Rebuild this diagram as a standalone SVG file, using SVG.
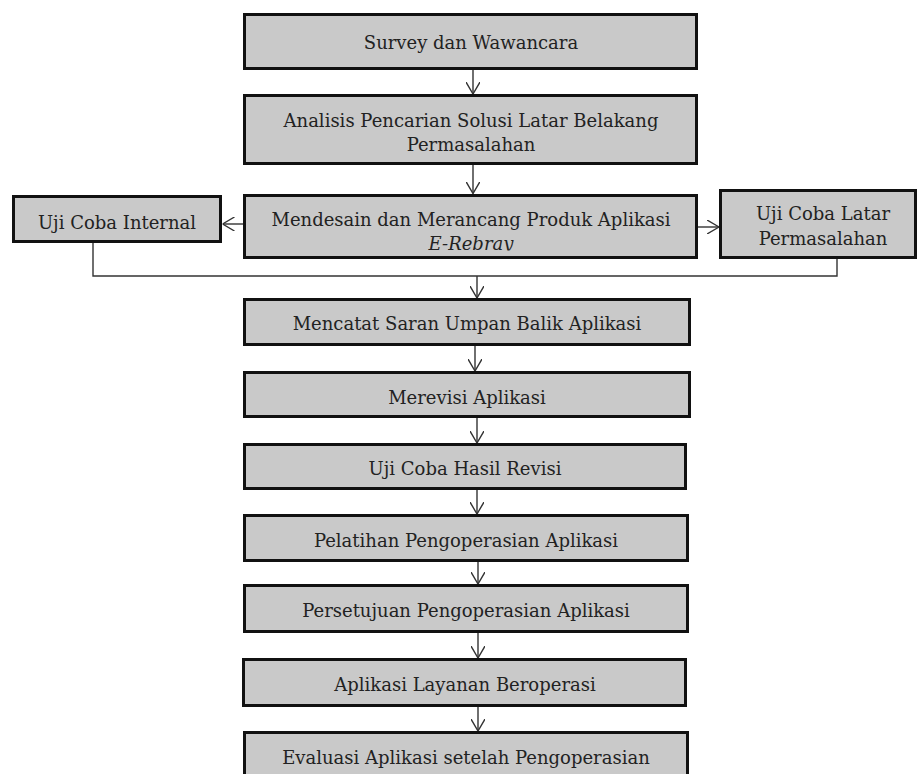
<svg xmlns="http://www.w3.org/2000/svg" width="917" height="774" viewBox="0 0 917 774">
<style>
.box{fill:#c9c9c9;stroke:#111;stroke-width:3}
.t{font-family:"DejaVu Serif","Liberation Serif",serif;font-size:18px;fill:#222;text-anchor:middle}
.c{fill:none;stroke:#333;stroke-width:1.4}
</style>
<defs>
<marker id="ah" viewBox="0 0 12 14" refX="12" refY="7" markerWidth="12" markerHeight="14" markerUnits="userSpaceOnUse" orient="auto">
<path d="M0,0 L12,7 L0,14" fill="none" stroke="#333" stroke-width="1.4"/>
</marker>
<clipPath id="clipM"><rect x="243" y="194" width="455" height="56.5"/></clipPath>
</defs>
<rect width="917" height="774" fill="#fff"/>
<g id="connectors">
<line class="c" x1="473" y1="70" x2="473" y2="94" marker-end="url(#ah)"/>
<line class="c" x1="473" y1="165" x2="473" y2="193.5" marker-end="url(#ah)"/>
<line class="c" x1="243" y1="224" x2="222.5" y2="224" marker-end="url(#ah)"/>
<line class="c" x1="698" y1="227" x2="719" y2="227" marker-end="url(#ah)"/>
<path class="c" d="M93 243 V276 H837 V259"/>
<line class="c" x1="477" y1="276" x2="477" y2="298" marker-end="url(#ah)"/>
<line class="c" x1="475" y1="346" x2="475" y2="371" marker-end="url(#ah)"/>
<line class="c" x1="477" y1="418" x2="477" y2="443" marker-end="url(#ah)"/>
<line class="c" x1="477" y1="490" x2="477" y2="514" marker-end="url(#ah)"/>
<line class="c" x1="478" y1="562" x2="478" y2="584" marker-end="url(#ah)"/>
<line class="c" x1="478" y1="633" x2="478" y2="658" marker-end="url(#ah)"/>
<line class="c" x1="478" y1="707" x2="478" y2="731" marker-end="url(#ah)"/>
</g>
<g id="n1"><rect class="box" x="244.5" y="14.5" width="452" height="54"/><text class="t" x="471" y="49">Survey dan Wawancara</text></g>
<g id="n2"><rect class="box" x="244.5" y="95.5" width="452" height="68"/><text class="t" x="471" y="127">Analisis Pencarian Solusi Latar Belakang</text><text class="t" x="471" y="151">Permasalahan</text></g>
<g id="n3"><rect class="box" x="244.5" y="195.5" width="452" height="62"/><text class="t" x="471" y="226">Mendesain dan Merancang Produk Aplikasi</text><text class="t" x="471" y="250" font-style="italic" clip-path="url(#clipM)">E-Rebray</text></g>
<g id="n4"><rect class="box" x="13.5" y="196.5" width="207" height="45"/><text class="t" x="117" y="229">Uji Coba Internal</text></g>
<g id="n5"><rect class="box" x="720.5" y="190.5" width="195" height="67"/><text class="t" x="823" y="220">Uji Coba Latar</text><text class="t" x="823" y="245">Permasalahan</text></g>
<g id="n6"><rect class="box" x="244.5" y="299.5" width="445" height="45"/><text class="t" x="467" y="330">Mencatat Saran Umpan Balik Aplikasi</text></g>
<g id="n7"><rect class="box" x="244.5" y="372.5" width="445" height="44"/><text class="t" x="467" y="404">Merevisi Aplikasi</text></g>
<g id="n8"><rect class="box" x="244.5" y="444.5" width="441" height="44"/><text class="t" x="465" y="475">Uji Coba Hasil Revisi</text></g>
<g id="n9"><rect class="box" x="244.5" y="515.5" width="443" height="45"/><text class="t" x="466" y="547">Pelatihan Pengoperasian Aplikasi</text></g>
<g id="n10"><rect class="box" x="244.5" y="585.5" width="443" height="46"/><text class="t" x="466" y="617">Persetujuan Pengoperasian Aplikasi</text></g>
<g id="n11"><rect class="box" x="243.5" y="659.5" width="442" height="46"/><text class="t" x="465" y="691">Aplikasi Layanan Beroperasi</text></g>
<g id="n12"><rect class="box" x="244.5" y="732.5" width="443" height="60"/><text class="t" x="466" y="764">Evaluasi Aplikasi setelah Pengoperasian</text></g>
</svg>
